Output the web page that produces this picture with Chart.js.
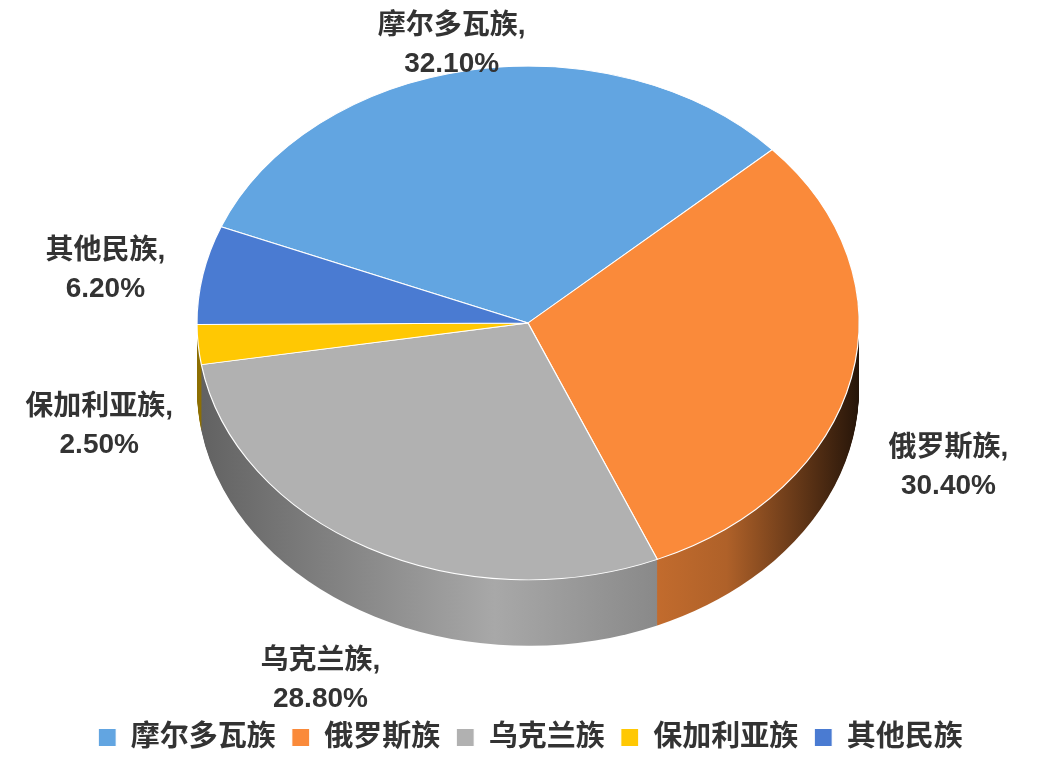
<!DOCTYPE html>
<html><head><meta charset="utf-8">
<script src="https://cdn.jsdelivr.net/npm/chart.js@4"></script>
<style>html,body{margin:0;padding:0;background:#fff}#w{width:1061px;height:772px}</style>
</head><body><div id="w"><canvas id="c" width="1061" height="772"></canvas></div>
<script>
const categories = ['摩尔多瓦族','俄罗斯族','乌克兰族','保加利亚族','其他民族'];
const values = [32.1, 30.4, 28.8, 2.5, 6.2];
const valueLabels = ['32.10%','30.40%','28.80%','2.50%','6.20%'];
const colors = ['#62A5E1','#FA8A3A','#B1B1B1','#FFC803','#4A7BD2'];

const CX = 528, CY = 323, K = 0.776, DEPTH = 66, FAMILY = '"Liberation Sans","Noto Sans CJK SC",sans-serif';
const FONT = 'bold 28px ' + FAMILY;

function shade(hex, f){
  const n = parseInt(hex.slice(1),16);
  const r=(n>>16)&255,g=(n>>8)&255,b=n&255;
  return `rgb(${Math.round(r*f)},${Math.round(g*f)},${Math.round(b*f)})`;
}
function project(ctx, el){
  ctx.translate(CX, CY); ctx.scale(1, K); ctx.translate(-el.x, -el.y);
}
const pie3d = {
  id:'pie3d',
  beforeDatasetsDraw(chart){
    const ctx = chart.ctx;
    const arcs = chart.getDatasetMeta(0).data;
    for (let d = DEPTH; d >= 1; d--) {
      arcs.forEach((el,i)=>{
        ctx.save();
        ctx.translate(0, d);
        project(ctx, el);
        const g = ctx.createLinearGradient(el.x-el.outerRadius,0,el.x+el.outerRadius,0);
        g.addColorStop(0, shade(colors[i],0.55));
        g.addColorStop(0.45, shade(colors[i],0.95));
        g.addColorStop(0.8, shade(colors[i],0.7));
        g.addColorStop(1, shade(colors[i],0.15));
        ctx.fillStyle = g;
        ctx.beginPath();
        ctx.moveTo(el.x, el.y);
        ctx.arc(el.x, el.y, el.outerRadius, el.startAngle, el.endAngle);
        ctx.closePath();
        ctx.fill();
        ctx.restore();
      });
    }
    ctx.save();
    project(ctx, arcs[0]);
  },
  afterDatasetsDraw(chart){
    chart.ctx.restore();
  },
  afterDraw(chart){
    const ctx = chart.ctx;
    const arcs = chart.getDatasetMeta(0).data;
    ctx.save();
    ctx.font = FONT; ctx.fillStyle = '#333'; ctx.textAlign='center'; ctx.textBaseline='middle';
    arcs.forEach((el,i)=>{
      const a = (el.startAngle+el.endAngle)/2;
      const r = el.outerRadius;
      const s = Math.sin(a);
      const x = CX + r*Math.cos(a)*1.3;
      const y = CY + r*K*s*(s<0?1.10:1.25) + (s>0 ? DEPTH+10 : 0);
      ctx.fillText(categories[i]+',', x, y-19);
      ctx.fillText(valueLabels[i], x, y+19);
    });
    ctx.restore();
  }
};
new Chart(document.getElementById('c'), {
  type:'pie',
  data:{labels:categories, datasets:[{data:values, backgroundColor:colors, borderColor:'#fff', borderWidth:1.2, radius:331}]},
  options:{
    responsive:false, animation:false, rotation:-68,
    layout:{padding:{top:0,bottom:10}},
    plugins:{
      tooltip:{enabled:false},
      legend:{position:'bottom', labels:{boxWidth:18, boxHeight:18, padding:16, color:'#333', font:{size:29, weight:'bold', family:FAMILY}}}
    }
  },
  plugins:[pie3d]
});
</script></body></html>
